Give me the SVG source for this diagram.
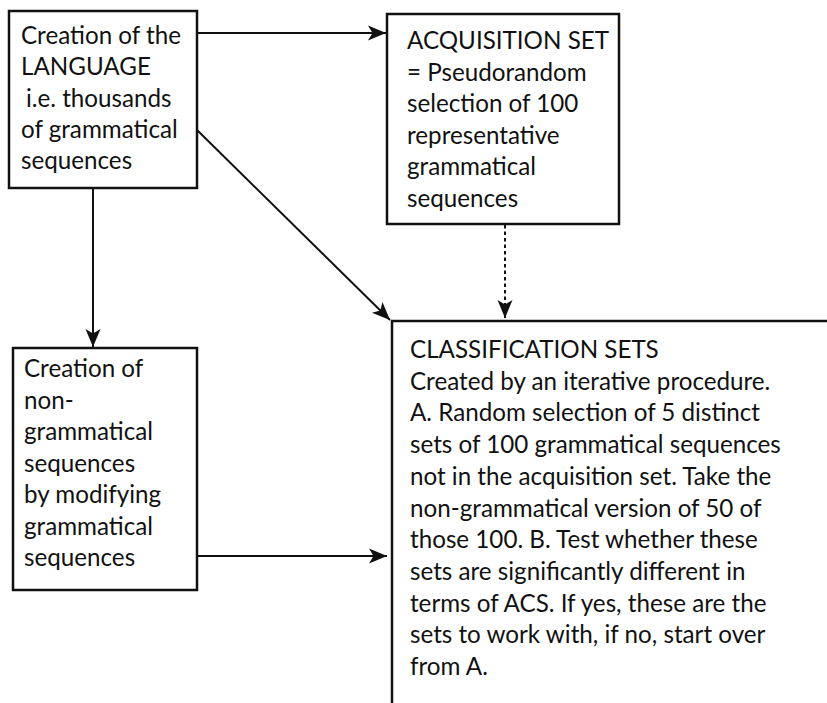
<svg xmlns="http://www.w3.org/2000/svg" width="827" height="703" viewBox="0 0 827 703">
<style>
.box{fill:#fff;stroke:#111;stroke-width:2.5}
.t{font-family:Lato,"Liberation Sans",sans-serif;font-size:24.2px;fill:#111}
.c{fill:none;stroke:#111;stroke-width:2}
.d{fill:none;stroke:#111;stroke-width:2;stroke-dasharray:3.5 3}
</style>
<defs>
<marker id="ah" markerUnits="userSpaceOnUse" markerWidth="19" markerHeight="18" refX="18" refY="9" orient="auto">
<path d="M0,1.5 L18,9 L0,16.5 L4.5,9 Z" fill="#111"/>
</marker>
</defs>
<rect width="827" height="703" fill="#fff"/>
<g id="connectors">
<line class="c" x1="197" y1="33" x2="386" y2="33" marker-end="url(#ah)"/>
<line class="c" x1="197" y1="130" x2="390" y2="320" marker-end="url(#ah)"/>
<line class="c" x1="93" y1="188" x2="93" y2="347" marker-end="url(#ah)"/>
<line class="d" x1="505" y1="225" x2="505" y2="318" marker-end="url(#ah)"/>
<line class="c" x1="197" y1="556" x2="387" y2="556" marker-end="url(#ah)"/>
</g>
<g id="language">
<rect class="box" x="9" y="11" width="188" height="177"/>
<text class="t" x="21" y="43.5">Creation of the</text>
<text class="t" x="21" y="75">LANGUAGE</text>
<text class="t" x="26" y="106.5">i.e. thousands</text>
<text class="t" x="21" y="138">of grammatical</text>
<text class="t" x="21" y="169">sequences</text>
</g>
<g id="acquisition">
<rect class="box" x="387" y="14" width="232" height="210"/>
<text class="t" x="407" y="49">ACQUISITION SET</text>
<text class="t" x="407" y="80.5">= Pseudorandom</text>
<text class="t" x="407" y="112">selection of 100</text>
<text class="t" x="407" y="143.5">representative</text>
<text class="t" x="407" y="175">grammatical</text>
<text class="t" x="407" y="206.5">sequences</text>
</g>
<g id="nongrammatical">
<rect class="box" x="13" y="348" width="184" height="242"/>
<text class="t" x="24" y="377">Creation of</text>
<text class="t" x="24" y="408.5">non-</text>
<text class="t" x="24" y="440">grammatical</text>
<text class="t" x="24" y="471.5">sequences</text>
<text class="t" x="24" y="503">by modifying</text>
<text class="t" x="24" y="534.5">grammatical</text>
<text class="t" x="24" y="566">sequences</text>
</g>
<g id="classification">
<rect class="box" x="392" y="321" width="450" height="400"/>
<text class="t" x="410" y="358">CLASSIFICATION SETS</text>
<text class="t" x="410" y="389.7">Created by an iterative procedure.</text>
<text class="t" x="410" y="421.4">A. Random selection of 5 distinct</text>
<text class="t" x="410" y="453.1">sets of 100 grammatical sequences</text>
<text class="t" x="410" y="484.8">not in the acquisition set. Take the</text>
<text class="t" x="410" y="516.5">non-grammatical version of 50 of</text>
<text class="t" x="410" y="548.2">those 100. B. Test whether these</text>
<text class="t" x="410" y="579.9">sets are significantly different in</text>
<text class="t" x="410" y="611.6">terms of ACS. If yes, these are the</text>
<text class="t" x="410" y="643.3">sets to work with, if no, start over</text>
<text class="t" x="410" y="675">from A.</text>
</g>
</svg>
